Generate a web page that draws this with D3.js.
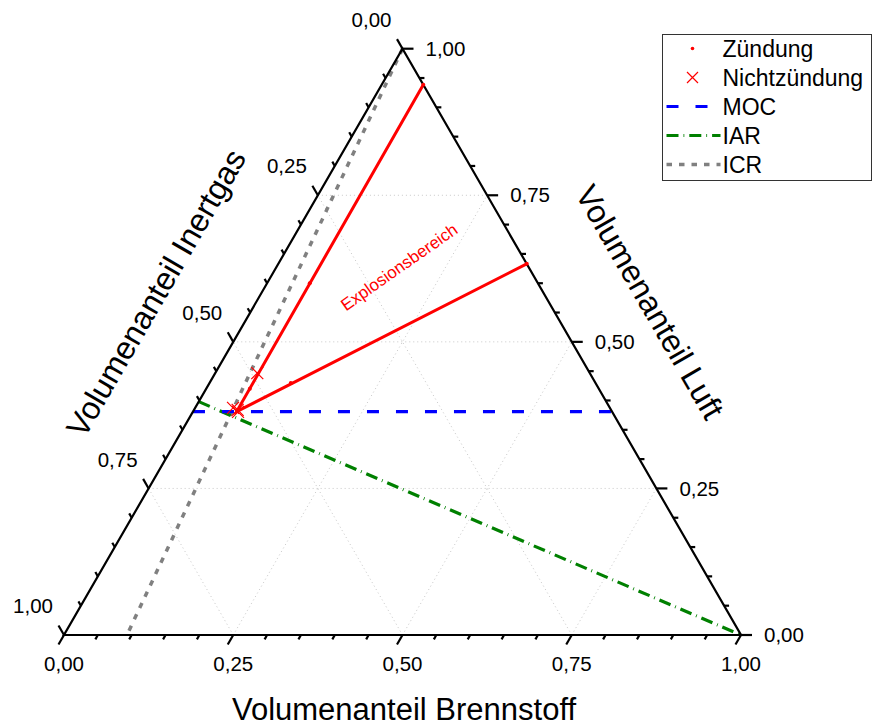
<!DOCTYPE html>
<html>
<head>
<meta charset="utf-8">
<script src="https://cdn.jsdelivr.net/npm/d3@7"></script>
<style>
  body { margin: 0; background: #fff; }
  text { font-family: "Liberation Sans", Arial, sans-serif; }
</style>
</head>
<body>
<svg id="chart"></svg>
<script>
// ---- data: points are [fuel, air], inert = 1 - fuel - air ----
const tickValues = [0, 0.25, 0.5, 0.75, 1];
const tickLabels = ["0,00", "0,25", "0,50", "0,75", "1,00"];
const minorStep = 0.05;

const zuendung = [[0.0614, 0.9386], [0.063, 0.60], [0.0645, 0.42], [0.12, 0.43], [0.367, 0.633]];
const nichtzuendung = [[0.0622, 0.4466], [0.056, 0.3874], [0.0645, 0.384], [0.0668, 0.3805]];
const explosionBoundary = [[0.0614, 0.9386], [0.0645, 0.381], [0.367, 0.633]];
const mocLine = [[0, 0.381], [0.619, 0.381]];
const iarLine = [[0, 0.398], [1, 0]];
const icrLine = [[0, 1], [0.093, 0]];

const legendItems = [
  { name: "Zündung", type: "dot" },
  { name: "Nichtzündung", type: "cross" },
  { name: "MOC", type: "line", color: "#0000ff", dash: "12,17", width: 3.2 },
  { name: "IAR", type: "line", color: "#008000", dash: "12,5,0.8,5", width: 3.2 },
  { name: "ICR", type: "line", color: "#808080", dash: "5.5,7", width: 3.5 }
];

// ---- layout ----
const width = 872, height = 727;
const left = 64, right = 741, bottom = 635;
const side = right - left;
const triH = side * Math.sqrt(3) / 2;

const svg = d3.select("#chart").attr("width", width).attr("height", height);

const xScale = d3.scaleLinear().domain([0, 1]).range([left, right]);
const yScale = d3.scaleLinear().domain([0, 1]).range([bottom, bottom - triH]);

// ternary -> screen
const proj = (d) => [xScale(d[0] + d[1] / 2), yScale(d[1])];
const line = d3.line().x((d) => proj(d)[0]).y((d) => proj(d)[1]);

// ---- grid ----
const grid = svg.append("g").attr("stroke", "#c8c8c8").attr("stroke-width", 1).attr("stroke-dasharray", "1,3").attr("fill", "none");
[0.25, 0.5, 0.75].forEach((v) => {
  grid.append("path").attr("d", line([[v, 0], [v, 1 - v]]));       // constant fuel
  grid.append("path").attr("d", line([[0, v], [1 - v, v]]));       // constant air
  grid.append("path").attr("d", line([[1 - v, 0], [0, 1 - v]]));   // constant inert
});

// ---- data lines ----
svg.append("path").attr("d", line(icrLine)).attr("fill", "none")
  .attr("stroke", "#808080").attr("stroke-width", 3.5).attr("stroke-dasharray", "5.5,7");
svg.append("path").attr("d", line(iarLine)).attr("fill", "none")
  .attr("stroke", "#008000").attr("stroke-width", 3.2).attr("stroke-dasharray", "12,5,0.8,5");
svg.append("path").attr("d", line(mocLine)).attr("fill", "none")
  .attr("stroke", "#0000ff").attr("stroke-width", 3.2).attr("stroke-dasharray", "12,17");
svg.append("path").attr("d", line(explosionBoundary)).attr("fill", "none")
  .attr("stroke", "#ff0000").attr("stroke-width", 3);

// ---- axes ----
const minor = d3.range(0, 1 + 1e-9, minorStep);
const isMajor = (v) => tickValues.some((t) => Math.abs(t - v) < 1e-6);
const axes = svg.append("g").attr("stroke", "#000").attr("stroke-width", 2.2).attr("fill", "none");
axes.append("path").attr("d", line([[0, 0], [1, 0], [0, 1]]) + "Z").attr("stroke-linejoin", "miter");

const dl = [-0.5, Math.sqrt(3) / 2];  // down-left
const ul = [-0.5, -Math.sqrt(3) / 2]; // up-left

minor.forEach((v) => {
  const len = isMajor(v) ? 11 : 5;
  // bottom axis: fuel
  let p = proj([v, 0]);
  axes.append("line").attr("x1", p[0]).attr("y1", p[1]).attr("x2", p[0] + dl[0] * len).attr("y2", p[1] + dl[1] * len);
  // right axis: air
  p = proj([1 - v, v]);
  axes.append("line").attr("x1", p[0]).attr("y1", p[1]).attr("x2", p[0] + len).attr("y2", p[1]);
  // left axis: inert (0 at top)
  p = proj([0, 1 - v]);
  axes.append("line").attr("x1", p[0]).attr("y1", p[1]).attr("x2", p[0] + ul[0] * len).attr("y2", p[1] + ul[1] * len);
});

const labels = svg.append("g").attr("font-size", 20.5).attr("fill", "#000");
tickValues.forEach((v, i) => {
  let p = proj([v, 0]);
  labels.append("text").attr("x", p[0]).attr("y", p[1] + 36).attr("text-anchor", "middle").text(tickLabels[i]);
  p = proj([1 - v, v]);
  labels.append("text").attr("x", p[0] + 23).attr("y", p[1]).attr("dy", "0.35em").text(tickLabels[i]);
  p = proj([0, 1 - v]);
  labels.append("text").attr("x", p[0] - 31).attr("y", p[1] - 29).attr("dy", "0.35em").attr("text-anchor", "middle").text(tickLabels[i]);
});

// axis titles
svg.append("text").attr("x", 404).attr("y", 720).attr("text-anchor", "middle")
  .attr("font-size", 31).text("Volumenanteil Brennstoff");
svg.append("text").attr("transform", "translate(156,293) rotate(-60)").attr("dy", "0.35em").attr("text-anchor", "middle")
  .attr("font-size", 32).text("Volumenanteil Inertgas");
svg.append("text").attr("transform", "translate(650,302) rotate(60)").attr("dy", "0.35em").attr("text-anchor", "middle")
  .attr("font-size", 32).text("Volumenanteil Luft");

// region label
svg.append("text").attr("transform", "translate(399,267) rotate(-35)").attr("dy", "0.35em").attr("text-anchor", "middle")
  .attr("font-size", 17).attr("fill", "#ff0000").text("Explosionsbereich");

// ---- points ----
const crossPath = (s) => `M${-s},${-s}L${s},${s}M${-s},${s}L${s},${-s}`;
svg.append("g").selectAll("circle").data(zuendung).join("circle")
  .attr("cx", (d) => proj(d)[0]).attr("cy", (d) => proj(d)[1]).attr("r", 2).attr("fill", "#ff0000");
svg.append("g").selectAll("path").data(nichtzuendung).join("path")
  .attr("d", crossPath(6)).attr("transform", (d) => `translate(${proj(d)})`)
  .attr("stroke", "#ff0000").attr("stroke-width", 1.2).attr("fill", "none");

// ---- legend ----
const legend = svg.append("g").attr("transform", "translate(662.5,34.5)");
legend.append("rect").attr("width", 209).attr("height", 146).attr("fill", "#fff").attr("stroke", "#333").attr("stroke-width", 1);
legendItems.forEach((item, i) => {
  const y = 14 + i * 29;
  const g = legend.append("g").attr("transform", `translate(0,${y})`);
  if (item.type === "dot") {
    g.append("circle").attr("cx", 30).attr("cy", 0).attr("r", 1.8).attr("fill", "#ff0000");
  } else if (item.type === "cross") {
    g.append("path").attr("d", crossPath(5.5)).attr("transform", "translate(30,0)")
      .attr("stroke", "#ff0000").attr("stroke-width", 1.2).attr("fill", "none");
  } else {
    g.append("line").attr("x1", 4).attr("x2", 58).attr("y1", 0).attr("y2", 0)
      .attr("stroke", item.color).attr("stroke-width", item.width).attr("stroke-dasharray", item.dash);
  }
  g.append("text").attr("x", 60).attr("y", 0).attr("dy", "0.35em").attr("font-size", 23).text(item.name);
});
</script>
</body>
</html>
